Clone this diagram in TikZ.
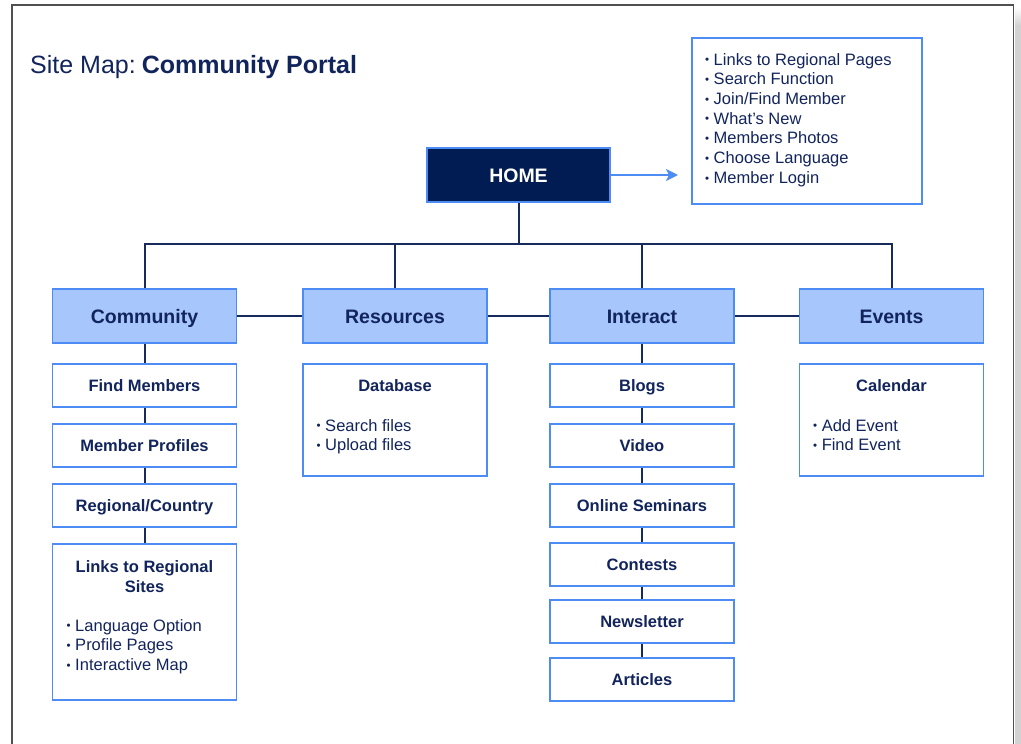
\documentclass[tikz,border=0pt]{standalone}
\usepackage{fontspec}
\setmainfont{Liberation Sans}
\usetikzlibrary{arrows.meta}
\definecolor{navy}{RGB}{18,36,92}
\definecolor{homefill}{RGB}{0,28,82}
\definecolor{lblue}{RGB}{78,140,245}
\definecolor{catfill}{RGB}{166,198,252}
\definecolor{conncol}{RGB}{22,42,92}
\definecolor{framecol}{RGB}{80,80,80}
\newcommand\mybul{\raisebox{0.07em}{\scalebox{0.7}{\textbullet}}\hspace{4.5pt}}
\begin{document}
\begin{tikzpicture}[x=1pt,y=-1pt,
  box/.style={draw=lblue, line width=1.6pt, inner sep=0pt, text depth=0pt, text=navy},
  homebox/.style={box, fill=homefill, text=white, text height=14pt, font=\fontsize{19.5}{23}\selectfont\bfseries, minimum width=183pt, minimum height=54pt},
  catbox/.style={box, fill=catfill, text height=14pt, font=\fontsize{19.5}{23}\selectfont\bfseries, minimum width=184pt, minimum height=54pt},
  childbox/.style={box, fill=white, text height=11.8pt, font=\fontsize{16.5}{20}\selectfont\bfseries, minimum width=184pt, minimum height=43pt},
  listbox/.style={draw=lblue, line width=1.6pt, fill=white, inner sep=0pt, minimum width=184pt},
  item/.style={anchor=base west, inner sep=0pt, text=navy, font=\fontsize{16.5}{20}\selectfont},
  head/.style={anchor=base, inner sep=0pt, text=navy, font=\fontsize{16.5}{20}\selectfont\bfseries},
  conn/.style={draw=conncol, line width=2pt},
  arr/.style={draw=lblue, line width=2.2pt, shorten >=13pt, -{Stealth[length=12pt,width=12pt,inset=3pt]}}
]
\useasboundingbox (0,0) rectangle (1021,744);
\fill[white] (0,0) rectangle (1021,744);
% frame and shadow
\fill[gray!35] (1015,25) rectangle (1021,744);
\shade[top color=white, bottom color=gray!35] (1015,7) rectangle (1021,25);
\draw[framecol, line width=1.8pt] (12,744) -- (12,5) -- (1013.5,5) -- (1013.5,744);

% title
\node[anchor=base west, inner sep=0pt, text=navy, font=\fontsize{25}{30}\selectfont] (title) at (30,73) {Site Map:\hspace{6pt}\textbf{Community Portal}};

% home and info box
\node[homebox] (home) at (518.5,175) {HOME};
\node[draw=lblue, line width=1.6pt, inner sep=0pt, minimum width=230pt, minimum height=166pt, anchor=north west] (info) at (691,37) {};
\foreach \t [count=\i] in {Links to Regional Pages, Search Function, {Join/Find Member}, What’s New, Members Photos, Choose Language, Member Login}
  \node[item] (info\i) at (705,45.3+19.7*\i) {\mybul\t};
\draw[arr] (home.east) -- (info.west |- home.east);

% categories
\node[catbox] (community) at (144.5,316) {Community};
\node[catbox] (resources) at (395,316) {Resources};
\node[catbox] (interact) at (642,316) {Interact};
\node[catbox] (events) at (891.5,316) {Events};

% community column
\node[childbox] (findm) at (144.5,385.5) {Find Members};
\node[childbox] (profiles) at (144.5,445.5) {Member Profiles};
\node[childbox] (regional) at (144.5,505.5) {Regional/Country};
\node[listbox, minimum height=156pt] (links) at (144.5,622) {};
\node[head] (linksh1) at (144.5,572) {Links to Regional};
\node[head] (linksh2) at (144.5,592) {Sites};
\node[item] (links1) at (66.5,631) {\mybul Language Option};
\node[item] (links2) at (66.5,650.7) {\mybul Profile Pages};
\node[item] (links3) at (66.5,670.5) {\mybul Interactive Map};

% resources column
\node[listbox, minimum height=112pt] (database) at (395,420) {};
\node[head] (databaseh) at (395,391.7) {Database};
\node[item] (db1) at (316.5,431) {\mybul Search files};
\node[item] (db2) at (316.5,450.7) {\mybul Upload files};

% interact column
\node[childbox] (blogs) at (642,385.5) {Blogs};
\node[childbox] (video) at (642,445.5) {Video};
\node[childbox] (seminars) at (642,505.5) {Online Seminars};
\node[childbox] (contests) at (642,564.5) {Contests};
\node[childbox] (newsletter) at (642,621.5) {Newsletter};
\node[childbox] (articles) at (642,679.5) {Articles};

% events column
\node[listbox, minimum height=112pt] (calendar) at (891.5,420) {};
\node[head] (calendarh) at (891.5,391.7) {Calendar};
\node[item] (cal1) at (813,431) {\mybul Add Event};
\node[item] (cal2) at (813,450.7) {\mybul Find Event};

% connectors
\coordinate (bus) at (0,244);
\draw[conn] (home.south) -- (home.south |- bus);
\draw[conn] (community.north) -- (community.north |- bus) -- (events.north |- bus) -- (events.north);
\draw[conn] (resources.north) -- (resources.north |- bus);
\draw[conn] (interact.north) -- (interact.north |- bus);
\draw[conn] (community.east) -- (resources.west);
\draw[conn] (resources.east) -- (interact.west);
\draw[conn] (interact.east) -- (events.west);
\draw[conn] (community.south) -- (findm.north);
\draw[conn] (findm.south) -- (profiles.north);
\draw[conn] (profiles.south) -- (regional.north);
\draw[conn] (regional.south) -- (links.north);
\draw[conn] (interact.south) -- (blogs.north);
\draw[conn] (blogs.south) -- (video.north);
\draw[conn] (video.south) -- (seminars.north);
\draw[conn] (seminars.south) -- (contests.north);
\draw[conn] (contests.south) -- (newsletter.north);
\draw[conn] (newsletter.south) -- (articles.north);
\end{tikzpicture}
\end{document}
